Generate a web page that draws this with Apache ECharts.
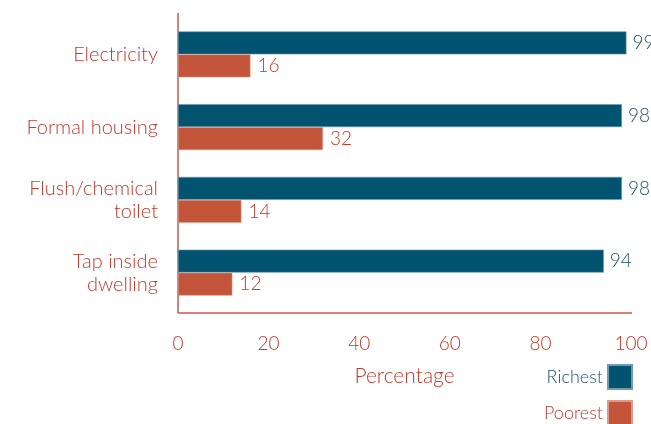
<!DOCTYPE html>
<html>
<head>
<meta charset="utf-8">
<script src="https://cdn.jsdelivr.net/npm/echarts@6/dist/echarts.min.js"></script>
<style>
  html, body { margin: 0; padding: 0; background: #fff; }
  #chart { width: 651px; height: 424px; }
</style>
</head>
<body>
<div id="chart"></div>
<script>
// Access to basic services, richest vs poorest households (%)
const categories = ['Electricity', 'Formal housing', 'Flush/chemical\ntoilet', 'Tap inside\ndwelling'];
const richest = [99, 98, 98, 94];
const poorest = [16, 32, 14, 12];
const xTicks = [0, 20, 40, 60, 80, 100];
const seriesNames = ['Richest', 'Poorest'];

const BLUE = '#01536f';
const RED = '#c2553a';
const TEXT_RED = '#c0392b';
const TEXT_BLUE = '#1d4f6b';
const AXIS = '#c65a4f';
const FONT = 'Lato';
const WEIGHT = 300;

const chart = echarts.init(document.getElementById('chart'), null, { renderer: 'canvas' });

// one single-item legend per series, stacked in the bottom-right corner
function legendFor(name, top, color) {
  return {
    orient: 'vertical',
    right: 18,
    top: top,
    padding: 0,
    align: 'right',
    itemWidth: 24,
    itemHeight: 24,
    icon: 'rect',
    data: [{ name: name, textStyle: { color: color } }],
    textStyle: { fontSize: 18, fontFamily: FONT, fontWeight: WEIGHT, padding: [4, 0, 0, 0] }
  };
}

chart.setOption({
  animation: false,
  textStyle: { fontFamily: FONT, fontWeight: WEIGHT },
  grid: { left: 178, right: 20, top: 18, height: 291, containLabel: false },
  xAxis: {
    type: 'value',
    min: xTicks[0],
    max: xTicks[xTicks.length - 1],
    interval: 20,
    axisLine: { show: false },
    axisTick: { show: false },
    splitLine: { show: false },
    axisLabel: { color: TEXT_RED, fontSize: 19, margin: 25, fontFamily: FONT, fontWeight: WEIGHT },
    name: 'Percentage',
    nameLocation: 'middle',
    nameGap: 57,
    nameTextStyle: { color: TEXT_RED, fontSize: 21, fontFamily: FONT, fontWeight: WEIGHT }
  },
  yAxis: {
    type: 'category',
    data: categories,
    inverse: true,
    axisLine: { show: false },
    axisTick: { show: false },
    axisLabel: {
      color: TEXT_RED, fontSize: 20, lineHeight: 23, margin: 20,
      fontFamily: FONT, fontWeight: WEIGHT, align: 'right',
      padding: [0, 0, 8, 0]
    }
  },
  legend: [
    legendFor(seriesNames[0], 364, TEXT_BLUE),
    legendFor(seriesNames[1], 400, TEXT_RED)
  ],
  series: [
    {
      name: seriesNames[0],
      type: 'bar',
      data: richest,
      barWidth: 23,
      barGap: '0%',
      itemStyle: { color: BLUE, borderColor: '#6e9bb0', borderWidth: 0.6 },
      label: { show: true, position: 'right', distance: 6, color: TEXT_BLUE, fontSize: 19, fontFamily: FONT, fontWeight: WEIGHT }
    },
    {
      name: seriesNames[1],
      type: 'bar',
      data: poorest,
      barWidth: 23,
      barGap: '0%',
      itemStyle: { color: RED, borderColor: '#dc9a88', borderWidth: 0.6 },
      label: { show: true, position: 'right', distance: 7, color: TEXT_RED, fontSize: 19, fontFamily: FONT, fontWeight: WEIGHT }
    }
  ],
  graphic: [
    { type: 'line', shape: { x1: 178, y1: 13, x2: 178, y2: 313 }, style: { stroke: AXIS, lineWidth: 1.5 } },
    { type: 'line', shape: { x1: 178, y1: 313, x2: 632, y2: 313 }, style: { stroke: AXIS, lineWidth: 1.5 } }
  ]
});
</script>
</body>
</html>
